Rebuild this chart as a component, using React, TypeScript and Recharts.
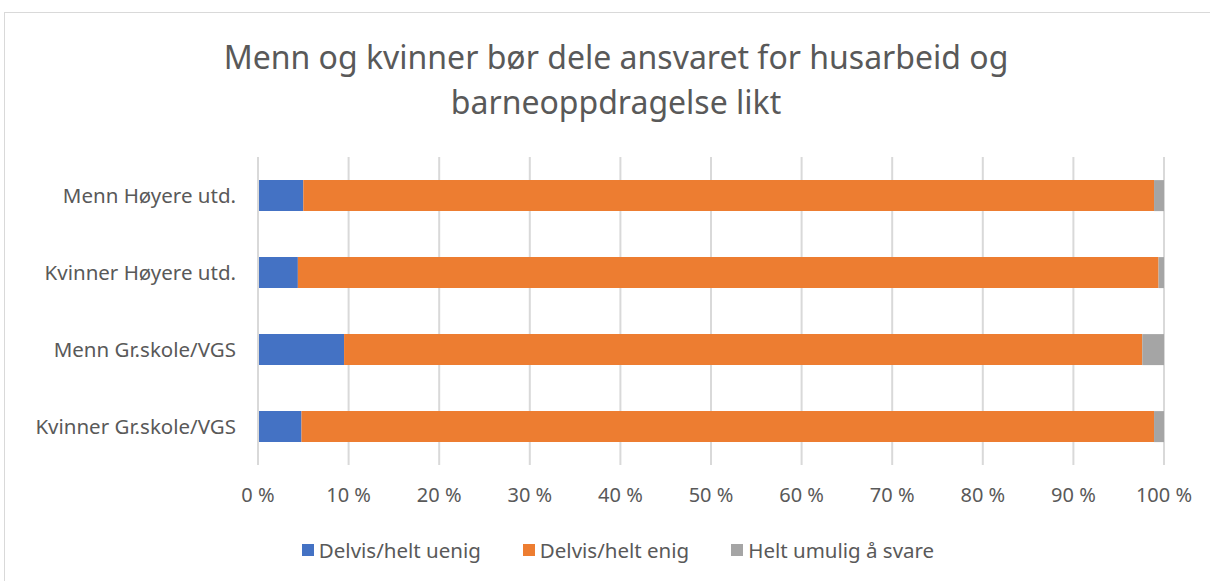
import React from 'react';
import { BarChart, Bar, XAxis, YAxis, CartesianGrid } from 'recharts';

const categories = ['Menn Høyere utd.', 'Kvinner Høyere utd.', 'Menn Gr.skole/VGS', 'Kvinner Gr.skole/VGS'];
const uenig = [5.0, 4.4, 9.5, 4.8];
const enig = [93.9, 95.0, 88.1, 94.1];
const umulig = [1.1, 0.6, 2.4, 1.1];
const xTicks = [0, 10, 20, 30, 40, 50, 60, 70, 80, 90, 100];

const seriesNames = ['Delvis/helt uenig', 'Delvis/helt enig', 'Helt umulig å svare'];
const colors = ['#4472C4', '#ED7D31', '#A5A5A5'];

const data = categories.map((name, i) => ({
  name,
  uenig: uenig[i],
  enig: enig[i],
  umulig: umulig[i],
}));

const FONT = '"Noto Sans", "Open Sans", sans-serif';

const App: React.FC = () => {
  return (
    <div style={{ position: 'absolute', left: 0, top: 0, width: 1210, height: 581, overflow: 'hidden', background: '#fff' }}>
      <div style={{ position: 'absolute', left: 4, top: 12, width: 1300, height: 700, border: '1px solid #d9d9d9' }} />
      <div
        style={{
          position: 'absolute',
          left: 0,
          top: 34,
          width: 1232,
          textAlign: 'center',
          fontFamily: FONT,
          fontSize: 32,
          lineHeight: '45px',
          color: '#595959',
        }}
      >
        Menn og kvinner bør dele ansvaret for husarbeid og
        <br />
        barneoppdragelse likt
      </div>
      <div style={{ position: 'absolute', left: 0, top: 0 }}>
        <BarChart
          width={1210}
          height={581}
          data={data}
          layout="vertical"
          barCategoryGap="30%"
          margin={{ top: 157, right: 46, bottom: 0, left: 0 }}
        >
          <CartesianGrid horizontal={false} stroke="#d9d9d9" strokeWidth={2} />
          <XAxis
            type="number"
            domain={[0, 100]}
            ticks={xTicks}
            tickFormatter={(v: number) => `${v} %`}
            axisLine={false}
            tickLine={false}
            tickSize={0}
            tickMargin={23}
            height={116}
            tick={{ fill: '#595959', fontSize: 20, fontFamily: FONT }}
          />
          <YAxis
            type="category"
            dataKey="name"
            width={258}
            axisLine={{ stroke: '#d9d9d9', strokeWidth: 2 }}
            tickLine={false}
            tickSize={0}
            tickMargin={22}
            tick={{ fill: '#595959', fontSize: 20.5, fontFamily: FONT }}
          />
          <Bar dataKey="uenig" name={seriesNames[0]} stackId="a" fill={colors[0]} isAnimationActive={false} />
          <Bar dataKey="enig" name={seriesNames[1]} stackId="a" fill={colors[1]} isAnimationActive={false} />
          <Bar dataKey="umulig" name={seriesNames[2]} stackId="a" fill={colors[2]} isAnimationActive={false} />
        </BarChart>
      </div>
      <div
        style={{
          position: 'absolute',
          left: 0,
          top: 536,
          width: 1236,
          display: 'flex',
          justifyContent: 'center',
          gap: 42,
          fontFamily: FONT,
          fontSize: 20.5,
          lineHeight: '28px',
          color: '#595959',
        }}
      >
        {seriesNames.map((s, i) => (
          <div key={s} style={{ display: 'flex', alignItems: 'center' }}>
            <span style={{ width: 12, height: 12, background: colors[i], display: 'inline-block', marginRight: 5 }} />
            <span>{s}</span>
          </div>
        ))}
      </div>
    </div>
  );
};

export default App;
